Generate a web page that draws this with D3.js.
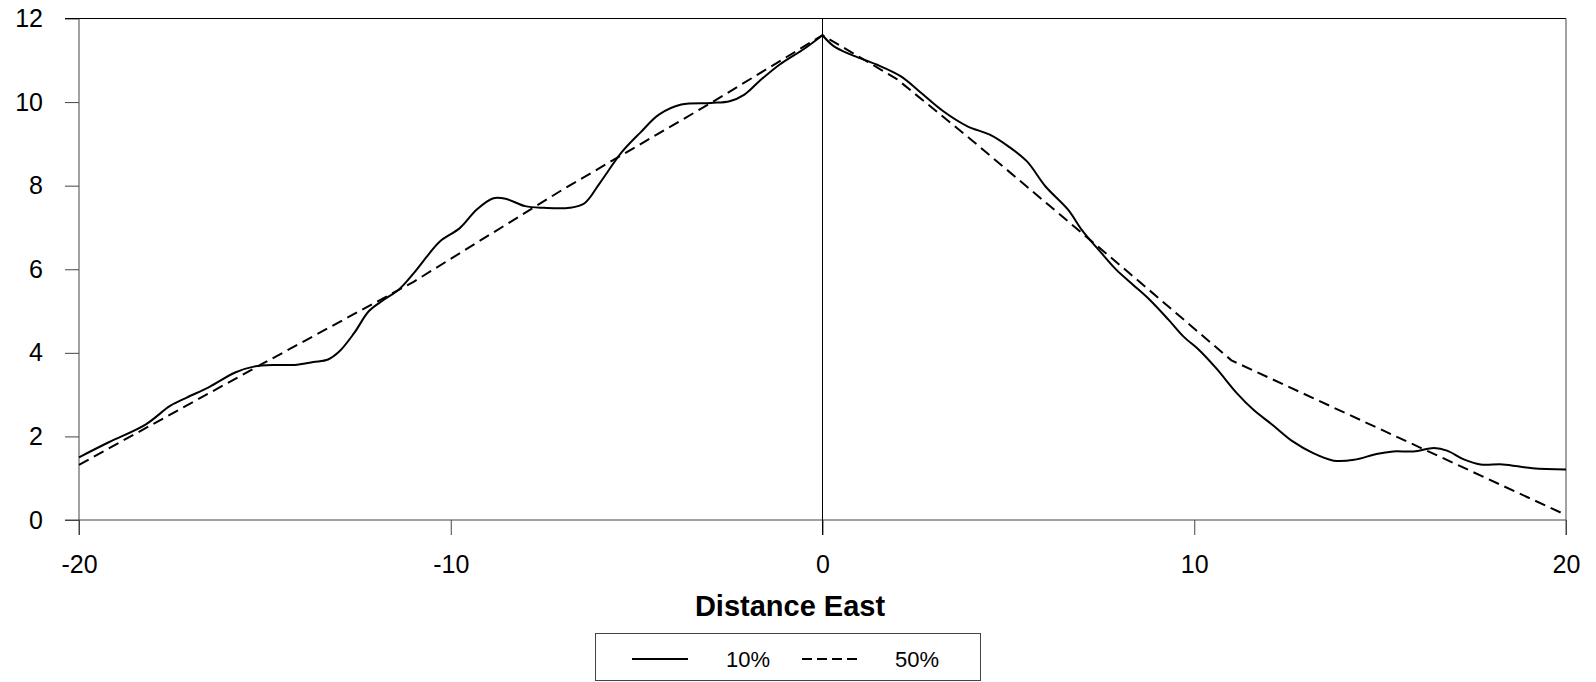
<!DOCTYPE html>
<html>
<head>
<meta charset="utf-8">
<script src="https://cdn.jsdelivr.net/npm/d3@7"></script>
<style>
  html, body { margin: 0; padding: 0; background: #fff; }
  svg { display: block; }
  text { font-family: "Liberation Sans", Arial, sans-serif; fill: #000; }
</style>
</head>
<body>
<svg id="chart" width="1596" height="682"></svg>
<script>
// ---- data ----
const xTicks = [-20, -10, 0, 10, 20];
const yTicks = [0, 2, 4, 6, 8, 10, 12];
const seriesNames = ["10%", "50%"];
const xTitle = "Distance East";

// 10% curve (solid)
const p10x = [-20, -19.2, -18.2, -17.55, -17.1, -16.5, -15.8, -15.3, -14.7, -14.2, -13.7, -13.3, -13.0, -12.6, -12.2, -11.8, -11.4, -11.0, -10.6, -10.3, -9.75, -9.3, -8.85, -8.5, -8.0, -7.5, -6.8, -6.4, -6.0, -5.4, -4.9, -4.4, -3.8, -3.0, -2.5, -2.1, -1.7, -1.15, -0.5, 0,
  0.3, 0.75, 1.45, 2.1, 2.6, 3.25, 3.9, 4.5, 5.0, 5.5, 6.0, 6.6, 7.0, 7.5, 7.9, 8.35, 8.8, 9.3, 9.7, 10.15, 10.6, 11.15, 11.6, 12.1, 12.65, 13.2, 13.75, 14.3, 14.9, 15.35, 15.9, 16.45, 16.8, 17.25, 17.7, 18.3, 19.1, 20];
const p10y = [1.50, 1.86, 2.29, 2.73, 2.93, 3.18, 3.53, 3.67, 3.71, 3.71, 3.78, 3.84, 4.03, 4.47, 5.00, 5.27, 5.51, 5.90, 6.35, 6.66, 6.99, 7.43, 7.70, 7.68, 7.51, 7.47, 7.47, 7.58, 8.05, 8.80, 9.27, 9.70, 9.94, 9.98, 10.02, 10.18, 10.50, 10.90, 11.27, 11.60,
  11.34, 11.14, 10.90, 10.62, 10.26, 9.78, 9.42, 9.22, 8.94, 8.58, 7.98, 7.43, 6.91, 6.39, 5.99, 5.63, 5.27, 4.80, 4.40, 4.05, 3.62, 3.03, 2.63, 2.28, 1.88, 1.60, 1.42, 1.44, 1.58, 1.64, 1.64, 1.72, 1.66, 1.45, 1.33, 1.33, 1.24, 1.21];

// 50% curve (dashed)
const p50x = [-20, -15, -11, -7, -3, 0, 2, 4, 6, 8, 11, 20];
const p50y = [1.32, 3.77, 5.70, 7.90, 9.98, 11.60, 10.55, 9.10, 7.60, 6.10, 3.82, 0.12];

// ---- drawing ----
const svg = d3.select("#chart");
svg.append("rect").attr("width", 1596).attr("height", 682).attr("fill", "#fff");

const x = d3.scaleLinear().domain([-20, 20]).range([79, 1566]);
const y = d3.scaleLinear().domain([0, 12]).range([520, 18.5]);
const axisColor = "#444";
const fmt = d => String(d);

// y axis
const gy = svg.append("g").attr("transform", `translate(${x(-20)},0)`)
  .call(d3.axisLeft(y).tickValues(yTicks).tickSize(14).tickPadding(22).tickFormat(fmt));
gy.select(".domain").remove();
gy.selectAll(".tick line").attr("stroke", axisColor);
gy.selectAll(".tick text").attr("font-size", 25).attr("font-family", "Liberation Sans, Arial, sans-serif");

// x axis
const gx = svg.append("g").attr("transform", `translate(0,${y(0)})`)
  .call(d3.axisBottom(x).tickValues(xTicks).tickSize(15).tickPadding(20).tickFormat(fmt));
gx.select(".domain").remove();
gx.selectAll(".tick line").attr("stroke", axisColor);
gx.selectAll(".tick text").attr("font-size", 25).attr("font-family", "Liberation Sans, Arial, sans-serif");

// frame lines
svg.append("line").attr("x1", x(-20) - 14).attr("x2", x(20)).attr("y1", y(0)).attr("y2", y(0)).attr("stroke", axisColor);
svg.append("line").attr("x1", x(-20)).attr("x2", x(-20)).attr("y1", y(12)).attr("y2", y(0) + 15).attr("stroke", axisColor);
svg.append("line").attr("x1", x(-20) - 14).attr("x2", x(20)).attr("y1", y(12)).attr("y2", y(12)).attr("stroke", "#000");
svg.append("line").attr("x1", x(20)).attr("x2", x(20)).attr("y1", y(12)).attr("y2", y(0) + 15).attr("stroke", axisColor);
svg.append("line").attr("x1", x(0)).attr("x2", x(0)).attr("y1", y(12)).attr("y2", y(0) + 15).attr("stroke", "#000");

// curves
const pts10 = p10x.map((v, i) => [v, p10y[i]]);
const pts50 = p50x.map((v, i) => [v, p50y[i]]);
const lineSmooth = d3.line().x(d => x(d[0])).y(d => y(d[1])).curve(d3.curveCatmullRom.alpha(0.5));
const lineLin = d3.line().x(d => x(d[0])).y(d => y(d[1]));

svg.append("path").attr("d", lineSmooth(pts10.filter(d => d[0] <= 0)))
  .attr("fill", "none").attr("stroke", "#000").attr("stroke-width", 2);
svg.append("path").attr("d", lineSmooth(pts10.filter(d => d[0] >= 0)))
  .attr("fill", "none").attr("stroke", "#000").attr("stroke-width", 2);
svg.append("path").attr("d", lineLin(pts50))
  .attr("fill", "none").attr("stroke", "#000").attr("stroke-width", 2).attr("stroke-dasharray", "11,6");

// x title
svg.append("text").attr("x", 790).attr("y", 616).attr("text-anchor", "middle")
  .attr("font-size", 29).attr("font-weight", "bold").text(xTitle);

// legend
const lg = svg.append("g");
lg.append("rect").attr("x", 595.5).attr("y", 633.5).attr("width", 385).attr("height", 47)
  .attr("fill", "#fff").attr("stroke", axisColor);
lg.append("line").attr("x1", 632).attr("x2", 688).attr("y1", 659).attr("y2", 659)
  .attr("stroke", "#000").attr("stroke-width", 2);
lg.append("text").attr("x", 726).attr("y", 667).attr("font-size", 22).text(seriesNames[0]);
lg.append("line").attr("x1", 802).attr("x2", 857).attr("y1", 659).attr("y2", 659)
  .attr("stroke", "#000").attr("stroke-width", 2).attr("stroke-dasharray", "10,5");
lg.append("text").attr("x", 895).attr("y", 667).attr("font-size", 22).text(seriesNames[1]);
</script>
</body>
</html>
